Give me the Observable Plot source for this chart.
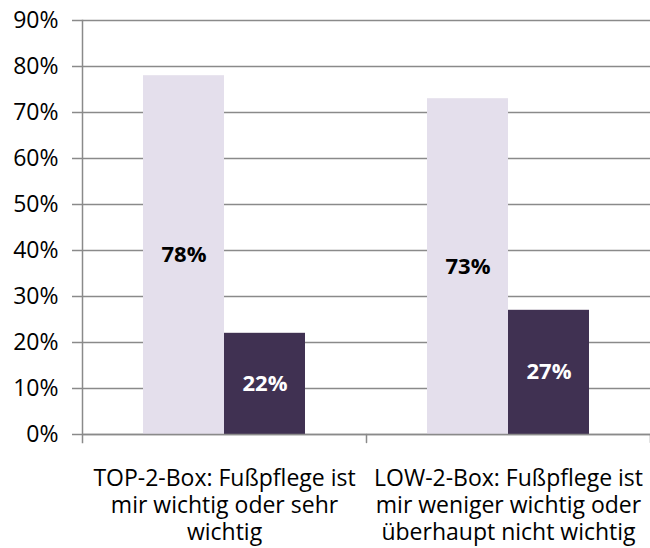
<!DOCTYPE html>
<html><head><meta charset="utf-8">
<script src="https://cdn.jsdelivr.net/npm/d3@7"></script>
<script src="https://cdn.jsdelivr.net/npm/@observablehq/plot@0.6"></script>
<style>body{margin:0;background:#fff;}</style>
</head><body><div id="chart"></div>
<script>
const categories = ["TOP-2-Box", "LOW-2-Box"];
const categoryLabels = [
  "TOP-2-Box: Fußpflege ist\nmir wichtig oder sehr\nwichtig",
  "LOW-2-Box: Fußpflege ist\nmir weniger wichtig oder\nüberhaupt nicht wichtig"
];
const series = ["Serie 1", "Serie 2"];
const series1Values = [78, 73];
const series2Values = [22, 27];
const yTicks = [0, 10, 20, 30, 40, 50, 60, 70, 80, 90];

const seriesColors = ["#E4DFEC", "#403152"];
const labelColors = ["#000000", "#FFFFFF"];
const gridColor = "#8a8a8a";

const data = categories.flatMap((c, i) => [
  {category: c, series: series[0], value: series1Values[i]},
  {category: c, series: series[1], value: series2Values[i]}
]);
const catData = categories.map((c, i) => ({category: c, label: categoryLabels[i]}));

const lineShape = {draw(context, l) { context.moveTo(0, 0); context.lineTo(0, -l); }};

const chart = Plot.plot({
  width: 650, height: 548,
  marginTop: 20, marginBottom: 114, marginLeft: 82, marginRight: 0,
  style: {fontFamily: "'Open Sans', sans-serif", fontSize: "22px", color: "#000", background: "#fff", overflow: "visible"},
  fx: {domain: categories, padding: 0, axis: null, label: null},
  x: {domain: series, paddingInner: 0, paddingOuter: 0.753, axis: null, label: null},
  y: {domain: [0, 90], axis: null, label: null},
  color: {domain: series, range: seriesColors},
  marks: [
    Plot.ruleY(yTicks, {stroke: gridColor, strokeWidth: 1.5}),
    Plot.barY(data, {fx: "category", x: "series", y: "value", fill: "series"}),
    Plot.ruleY([0], {stroke: gridColor, strokeWidth: 1.5}),
    Plot.text(data, {filter: d => d.series === series[0], fx: "category", x: "series", y: d => d.value / 2, text: d => d.value + "%", fill: labelColors[0], fontWeight: "bold", fontSize: 22}),
    Plot.text(data, {filter: d => d.series === series[1], fx: "category", x: "series", y: d => d.value / 2, text: d => d.value + "%", fill: labelColors[1], fontWeight: "bold", fontSize: 22}),
    Plot.axisY(yTicks, {anchor: "left", tickSize: 10, tickPadding: 14, tickFormat: d => d + "%", stroke: gridColor, strokeWidth: 1.5, fill: "#000", fontSize: 23, label: null}),
    Plot.frame({anchor: "left", facetAnchor: "left", stroke: gridColor, strokeWidth: 1.5, insetBottom: -8}),
    Plot.vector([0], {frameAnchor: "bottom-right", length: 8, rotate: 180, anchor: "start", shape: lineShape, stroke: gridColor, strokeWidth: 1.5}),
    Plot.text(catData, {fx: "category", text: "label", frameAnchor: "bottom", lineAnchor: "top", dy: 32, fontSize: 23, lineHeight: 1.174, fill: "#000"})
  ]
});
document.getElementById("chart").appendChild(chart);
</script>
</body></html>
